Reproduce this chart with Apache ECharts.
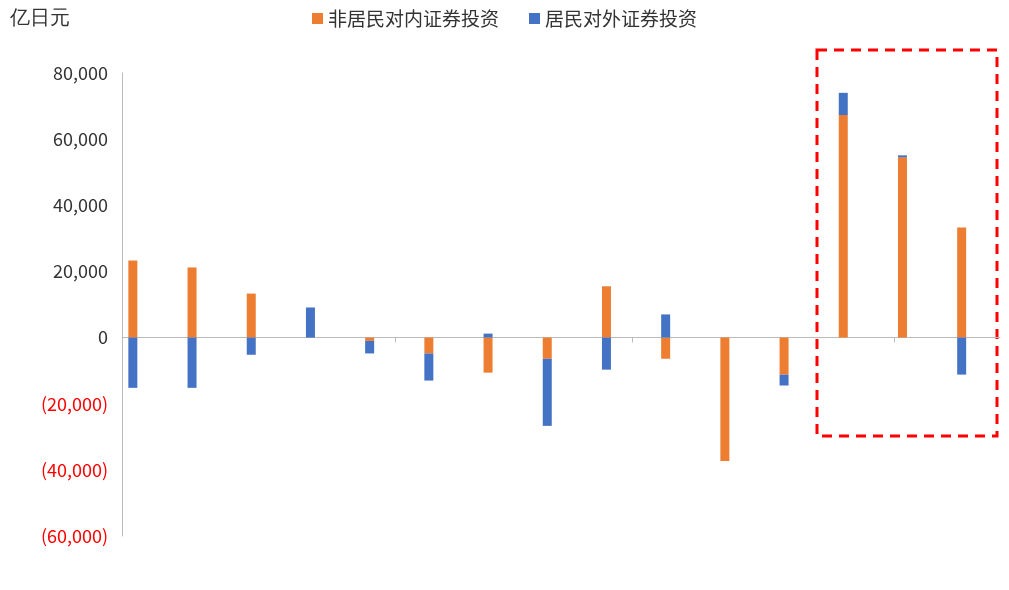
<!DOCTYPE html>
<html><head><meta charset="utf-8">
<script src="https://cdn.jsdelivr.net/npm/echarts@6/dist/echarts.min.js"></script>
<style>html,body{margin:0;padding:0;background:#fff}#chart{width:1009px;height:590px}</style>
</head><body><div id="chart"></div>
<script>
const weeks = ['2025-01-01','2025-01-08','2025-01-15','2025-01-22','2025-01-29','2025-02-05','2025-02-12','2025-02-19','2025-02-26','2025-03-05','2025-03-12','2025-03-19','2025-03-26','2025-04-02','2025-04-09']
const inbound = [23300, 21200, 13300, 0, -1000, -4800, -10600, -6400, 15500, -6400, -37300, -11200, 67300, 54500, 33300]
const outbound = [-15200, -15200, -5200, 9100, -3800, -8200, 1200, -20300, -9700, 7000, 0, -3300, 6700, 600, -11200]
const font = '"Noto Sans CJK SC", sans-serif'

const chart = echarts.init(document.querySelector('#chart'))
chart.setOption({
	animation: false,
	textStyle: { fontFamily: font },
	grid: { left: 122, right: 9, top: 73, bottom: 54, outerBoundsMode: 'none', containLabel: false },
	legend: {
		top: 4, left: 'center', itemWidth: 11, itemHeight: 11, itemGap: 30,
		textStyle: { fontSize: 19, color: '#333', fontFamily: font },
		data: [{ name: '非居民对内证券投资', icon: 'rect' }, { name: '居民对外证券投资', icon: 'rect' }]
	},
	graphic: [
		{ type: 'text', left: 10, top: 8, style: { text: '亿日元', fontSize: 20, fill: '#333', font: '20px ' + font } },
		{ type: 'rect', shape: { x: 817, y: 50, width: 180, height: 386 },
		  style: { fill: 'none', stroke: '#ff0000', lineWidth: 3, lineDash: [10, 7] } }
	],
	xAxis: {
		type: 'time',
		min: '2024-12-31T06:00:00', max: '2025-04-13',
		axisLine: { lineStyle: { color: '#bbb' } },
		axisTick: { show: true, lineStyle: { color: '#bbb' } },
		splitLine: { show: false },
		axisLabel: {
			fontSize: 18, color: '#333', margin: 220, hideOverlap: false,
			formatter: v => { const d = new Date(v); return d.getDate() === 1 ? d.getFullYear() + '/' + String(d.getMonth() + 1).padStart(2, '0') : '' }
		},
		minInterval: 28 * 86400000
	},
	yAxis: {
		type: 'value', min: -60000, max: 80000, interval: 20000,
		axisLine: { show: true, lineStyle: { color: '#bbb' } },
		splitLine: { show: false },
		axisLabel: {
			fontSize: 18, margin: 14,
			formatter: v => v < 0 ? '(' + Math.abs(v).toLocaleString('en-US') + ')' : v.toLocaleString('en-US'),
			color: v => Number(v) < 0 ? '#ff0000' : '#333'
		}
	},
	series: [
		{ name: '非居民对内证券投资', type: 'bar', stack: 'a', barWidth: 9, itemStyle: { color: '#ED7D31' },
		  data: weeks.map((d, i) => [d, inbound[i]]) },
		{ name: '居民对外证券投资', type: 'bar', stack: 'a', barWidth: 9, itemStyle: { color: '#4472C4' },
		  data: weeks.map((d, i) => [d, outbound[i]]) }
	]
})
</script></body></html>
